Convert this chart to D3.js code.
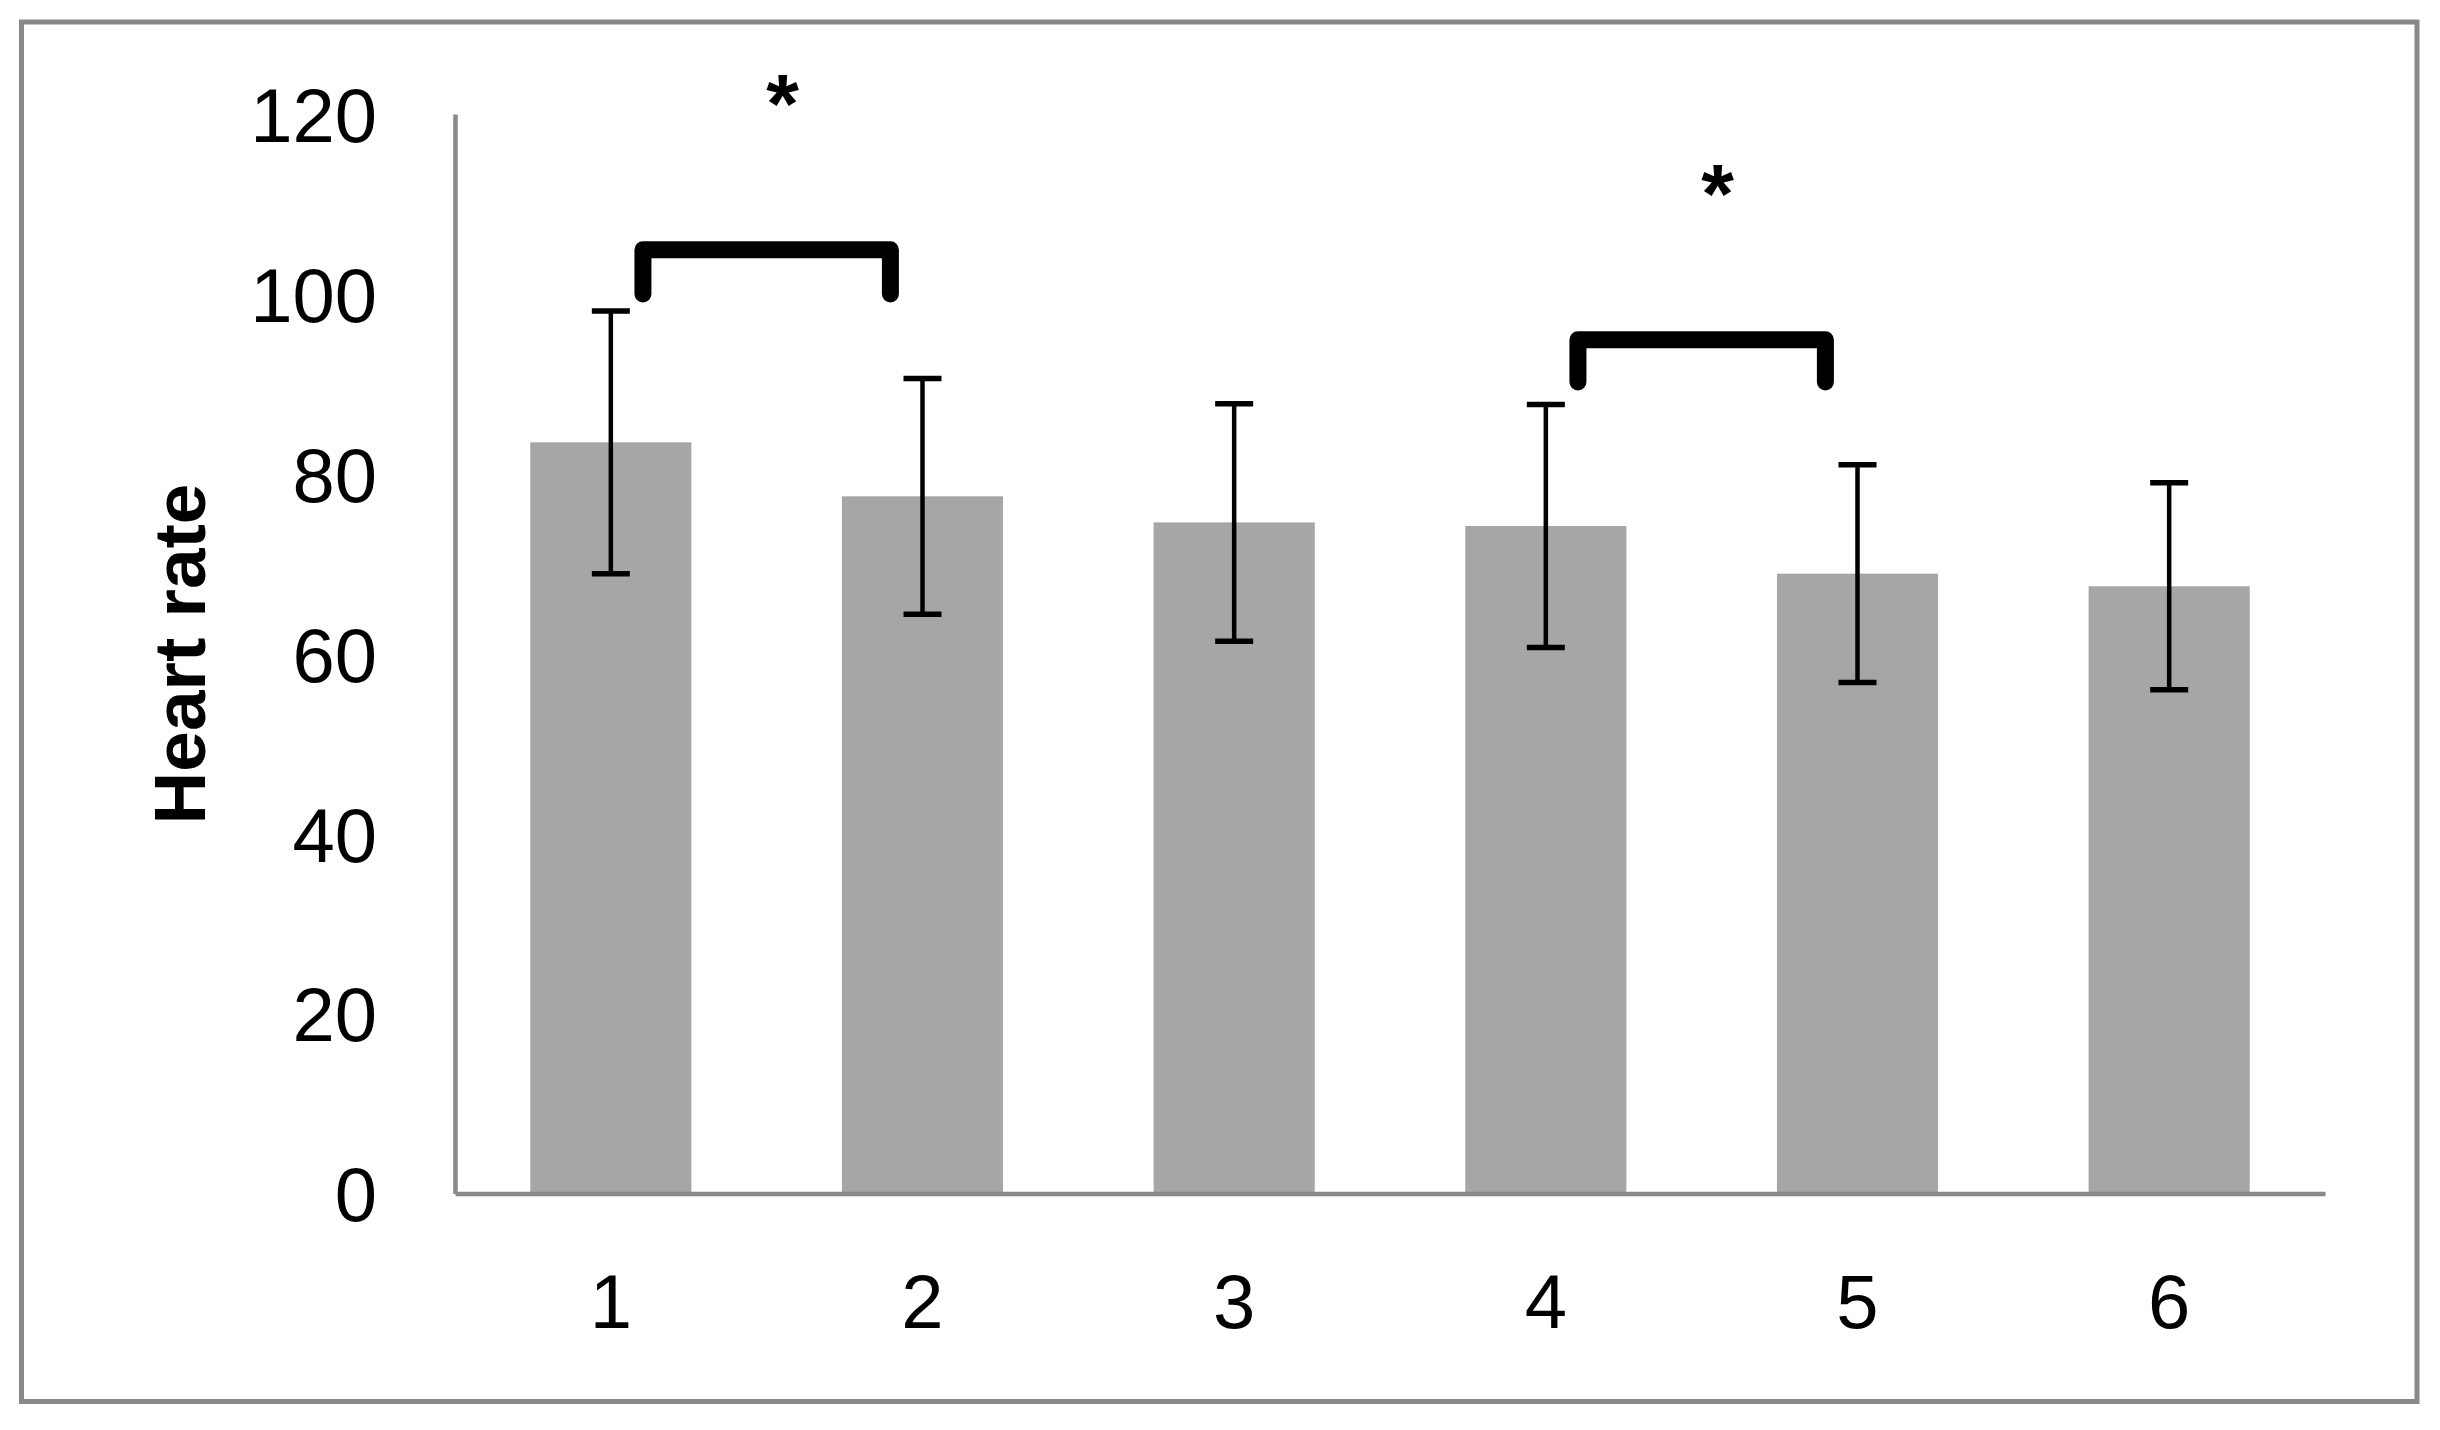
<!DOCTYPE html>
<html>
<head>
<meta charset="utf-8">
<script src="https://cdn.jsdelivr.net/npm/d3@7"></script>
<style>
  html, body { margin: 0; padding: 0; background: #fff; }
  svg { display: block; }
</style>
</head>
<body>
<svg id="chart" width="2440" height="1430"></svg>
<script>
// ---- data ----
const categories = ["1", "2", "3", "4", "5", "6"];
const means = [83.5, 77.5, 74.6, 74.2, 68.9, 67.5];
const errors = [14.6, 13.1, 13.2, 13.5, 12.1, 11.5];
const yTicks = [0, 20, 40, 60, 80, 100, 120];
const yLabel = "Heart rate";
// significance brackets: from category, to category, bar level, leg bottom
const sigFrom = ["1", "4"];
const sigTo = ["2", "5"];
const sigTop = [104.9, 94.9];
const sigLeg = [100.0, 90.2];
const sigMark = ["*", "*"];

(function () {
  const svg = d3.select("#chart");
  const W = 2440, H = 1430;
  const pLeft = 455, pRight = 2325, pTop = 114, pBottom = 1193.5;
  const axisColor = "#898989";
  const barColor = "#a6a6a6";
  const font = "'Liberation Sans', Arial, sans-serif";

  svg.append("rect").attr("width", W).attr("height", H).attr("fill", "#fff");

  // outer border
  svg.append("rect")
    .attr("x", 21.5).attr("y", 22)
    .attr("width", 2417 - 21.5).attr("height", 1401.5 - 22)
    .attr("fill", "none").attr("stroke", axisColor).attr("stroke-width", 5);

  const x = d3.scaleBand().domain(categories).range([pLeft, pRight])
    .paddingInner(0.483).paddingOuter(0.2415);
  const y = d3.scaleLinear().domain([0, 120]).range([pBottom, pTop]);
  const step = x.step();
  const cx = c => x(c) + x.bandwidth() / 2;

  // bars
  svg.append("g").selectAll("rect").data(categories).join("rect")
    .attr("x", d => x(d))
    .attr("y", (d, i) => y(means[i]))
    .attr("width", x.bandwidth())
    .attr("height", (d, i) => y(0) - y(means[i]))
    .attr("fill", barColor);

  // y axis
  const yAxis = svg.append("g").attr("transform", `translate(${pLeft},0)`)
    .call(d3.axisLeft(y).tickValues(yTicks).tickSize(0).tickSizeOuter(0).tickPadding(78));
  yAxis.select(".domain").attr("stroke", axisColor).attr("stroke-width", 4.5);
  yAxis.selectAll("text")
    .attr("dy", "0.36em")
    .attr("font-family", font).attr("font-size", 76).attr("fill", "#000");

  // x axis
  const xAxis = svg.append("g").attr("transform", `translate(0,${pBottom})`)
    .call(d3.axisBottom(x).tickSize(0).tickSizeOuter(0));
  xAxis.select(".domain").attr("stroke", axisColor).attr("stroke-width", 4.5);
  xAxis.selectAll("text")
    .attr("y", 134).attr("dy", 0)
    .attr("font-family", font).attr("font-size", 76).attr("fill", "#000");

  // error bars
  const eg = svg.append("g").attr("stroke", "#000").attr("fill", "none");
  categories.forEach((c, i) => {
    const xc = cx(c);
    const hi = y(means[i] + errors[i]);
    const lo = y(means[i] - errors[i]);
    eg.append("line").attr("x1", xc).attr("x2", xc).attr("y1", hi).attr("y2", lo).attr("stroke-width", 4.5);
    eg.append("line").attr("x1", xc - 19).attr("x2", xc + 19).attr("y1", hi).attr("y2", hi).attr("stroke-width", 5.5);
    eg.append("line").attr("x1", xc - 19).attr("x2", xc + 19).attr("y1", lo).attr("y2", lo).attr("stroke-width", 5.5);
  });

  // significance brackets
  sigFrom.forEach((a, i) => {
    const x1 = cx(a) + step * 0.103;
    const x2 = cx(sigTo[i]) - step * 0.103;
    const yt = y(sigTop[i]);
    const yl = y(sigLeg[i]);
    svg.append("path")
      .attr("d", `M${x1},${yl}V${yt}H${x2}V${yl}`)
      .attr("fill", "none").attr("stroke", "#000")
      .attr("stroke-width", 17).attr("stroke-linejoin", "round").attr("stroke-linecap", "round");
    svg.append("text")
      .attr("x", (x1 + x2) / 2 + 16)
      .attr("y", yt - 117)
      .attr("text-anchor", "middle")
      .attr("font-family", font).attr("font-weight", "bold").attr("font-size", 84)
      .attr("fill", "#000")
      .text(sigMark[i]);
  });

  // y label
  svg.append("text")
    .attr("transform", "translate(205,654) rotate(-90)")
    .attr("text-anchor", "middle")
    .attr("font-family", font).attr("font-weight", "bold").attr("font-size", 73)
    .attr("fill", "#000")
    .text(yLabel);
})();
</script>
</body>
</html>
